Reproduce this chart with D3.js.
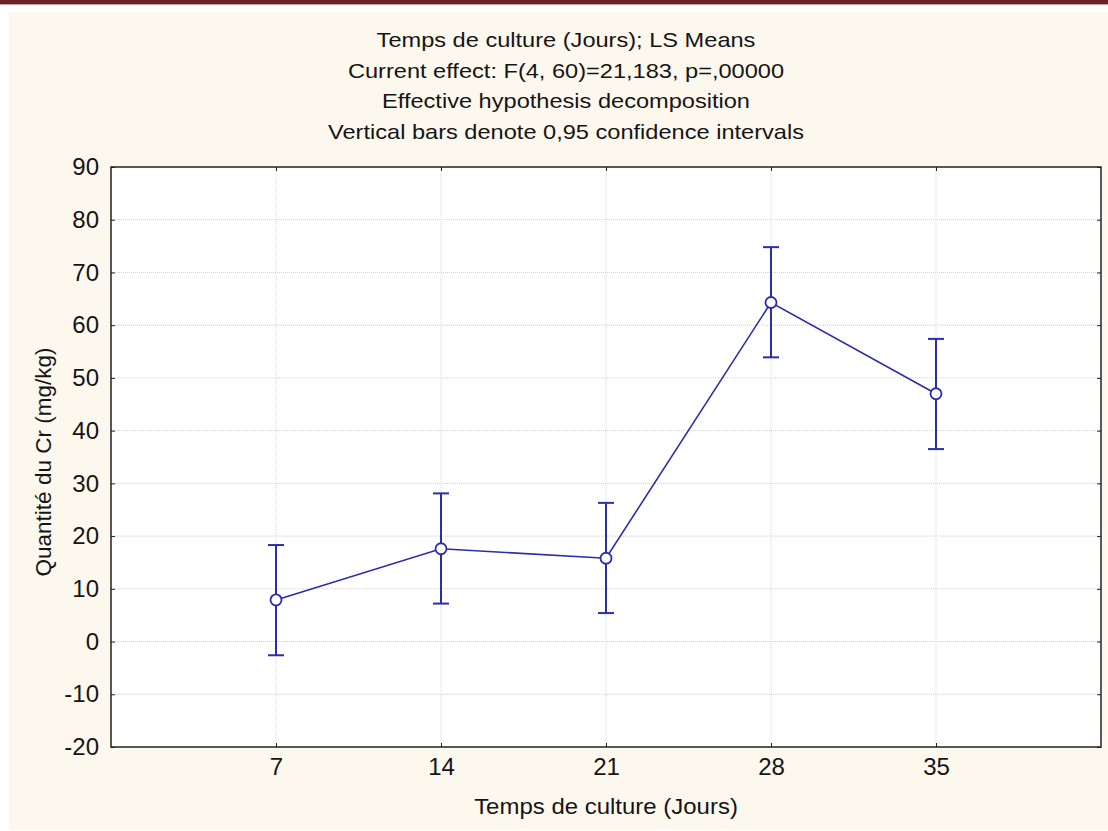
<!DOCTYPE html>
<html>
<head>
<meta charset="utf-8">
<script src="https://cdn.jsdelivr.net/npm/d3@7"></script>
<style>
  body { margin: 0; background: #fff; }
  svg { display: block; font-family: "Liberation Sans", Arial, sans-serif; }
</style>
</head>
<body>
<svg id="chart" width="1108" height="831"></svg>
<script>
// data
const days = [7, 14, 21, 28, 35];
const means = [7.9, 17.6, 15.8, 64.3, 47.0];
const lower = [-2.6, 7.2, 5.4, 53.9, 36.5];
const upper = [18.3, 28.1, 26.3, 74.8, 57.4];
const yTicks = [-20, -10, 0, 10, 20, 30, 40, 50, 60, 70, 80, 90];
const titleLines = [
  'Temps de culture (Jours); LS Means',
  'Current effect: F(4, 60)=21,183, p=,00000',
  'Effective hypothesis decomposition',
  'Vertical bars denote 0,95 confidence intervals'
];

const svg = d3.select('#chart');
const W = 1108, H = 831;
const margin = { top: 167, right: 7, bottom: 84, left: 111 };
const innerW = W - margin.left - margin.right;
const innerH = H - margin.top - margin.bottom;
const lineColor = '#2b2eaa';
const textColor = '#151515';

// page frame: dark red band on top, cream panel
svg.append('rect').attr('width', W).attr('height', H).attr('fill', '#fff');
svg.append('rect').attr('x', 9).attr('y', 12).attr('width', W - 9).attr('height', H - 13).attr('fill', '#fdf8ee');
svg.append('rect').attr('width', W).attr('height', 4).attr('fill', '#6a2226');
svg.append('rect').attr('y', 4).attr('width', W).attr('height', 1).attr('fill', '#c9a3a3');

// title block (the source render is a bit stretched horizontally)
svg.append('g')
  .selectAll('text')
  .data(titleLines)
  .join('text')
    .attr('transform', (d, i) => `translate(566,${47 + i * 30.7}) scale(1.18,1)`)
    .attr('text-anchor', 'middle')
    .attr('font-size', 20)
    .attr('fill', textColor)
    .text(d => d);

const x = d3.scaleLinear().domain([0, 42]).range([0, innerW]);
const y = d3.scaleLinear().domain([-20, 90]).range([innerH, 0]);

const g = svg.append('g').attr('transform', `translate(${margin.left},${margin.top})`);

g.append('rect').attr('width', innerW).attr('height', innerH).attr('fill', '#fff');

// dotted grid
g.append('g')
  .selectAll('line')
  .data(yTicks.slice(1, -1))
  .join('line')
    .attr('x1', 0).attr('x2', innerW)
    .attr('y1', d => y(d)).attr('y2', d => y(d))
    .attr('stroke', '#cfcfcf').attr('stroke-dasharray', '1,1');
g.append('g')
  .selectAll('line')
  .data(days)
  .join('line')
    .attr('y1', 0).attr('y2', innerH)
    .attr('x1', d => x(d)).attr('x2', d => x(d))
    .attr('stroke', '#d8d8d8').attr('stroke-dasharray', '1,1');

// axes with inward ticks on all four sides
const axisStyle = sel => {
  sel.select('.domain').remove();
  sel.selectAll('line').attr('stroke', '#222');
  sel.selectAll('text').attr('font-size', 24).attr('fill', textColor);
};
g.append('g')
  .call(d3.axisLeft(y).tickValues(yTicks).tickSize(-4).tickPadding(12).tickFormat(d => String(d)))
  .call(axisStyle);
g.append('g')
  .attr('transform', `translate(${innerW},0)`)
  .call(d3.axisRight(y).tickValues(yTicks).tickSize(-4).tickFormat(''))
  .call(axisStyle);
g.append('g')
  .attr('transform', `translate(0,${innerH})`)
  .call(d3.axisBottom(x).tickValues(days).tickSize(-4).tickPadding(11))
  .call(axisStyle);
g.append('g')
  .call(d3.axisTop(x).tickValues(days).tickSize(-4).tickFormat(''))
  .call(axisStyle);

g.append('rect')
  .attr('width', innerW).attr('height', innerH)
  .attr('fill', 'none').attr('stroke', '#222').attr('stroke-width', 1.5);

// axis titles
svg.append('text')
  .attr('transform', `translate(${margin.left + innerW / 2},814) scale(1.09,1)`)
  .attr('text-anchor', 'middle')
  .attr('font-size', 22)
  .attr('fill', textColor)
  .text('Temps de culture (Jours)');
svg.append('text')
  .attr('transform', `translate(51,${margin.top + innerH / 2 + 5}) rotate(-90)`)
  .attr('text-anchor', 'middle')
  .attr('font-size', 22.5)
  .attr('fill', textColor)
  .text('Quantité du Cr (mg/kg)');

// error bars
const points = days.map((d, i) => ({ day: d, mean: means[i], lo: lower[i], hi: upper[i] }));
const bars = g.append('g').attr('stroke', lineColor).attr('stroke-width', 2);
bars.selectAll('.ci')
  .data(points)
  .join('line')
    .attr('class', 'ci')
    .attr('x1', d => x(d.day)).attr('x2', d => x(d.day))
    .attr('y1', d => y(d.lo)).attr('y2', d => y(d.hi));
['lo', 'hi'].forEach(k => {
  bars.selectAll(`.cap-${k}`)
    .data(points)
    .join('line')
      .attr('class', `cap-${k}`)
      .attr('x1', d => x(d.day) - 8).attr('x2', d => x(d.day) + 8)
      .attr('y1', d => y(d[k])).attr('y2', d => y(d[k]));
});

// means line and markers
g.append('path')
  .datum(points)
  .attr('fill', 'none')
  .attr('stroke', lineColor)
  .attr('stroke-width', 1.6)
  .attr('d', d3.line().x(d => x(d.day)).y(d => y(d.mean)));
g.append('g')
  .selectAll('circle')
  .data(points)
  .join('circle')
    .attr('cx', d => x(d.day))
    .attr('cy', d => y(d.mean))
    .attr('r', 5.5)
    .attr('fill', '#fff')
    .attr('stroke', lineColor)
    .attr('stroke-width', 1.8);
</script>
</body>
</html>
